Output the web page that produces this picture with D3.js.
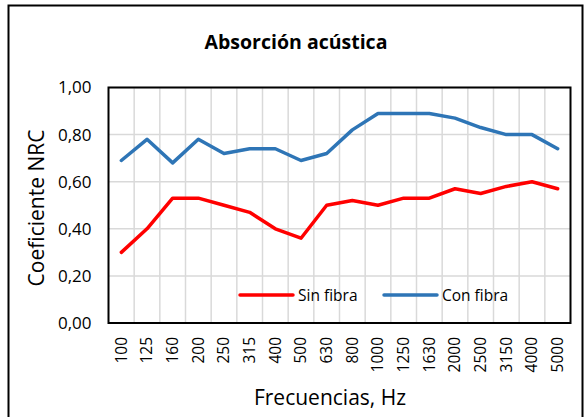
<!DOCTYPE html>
<html><head><meta charset="utf-8">
<script src="https://cdn.jsdelivr.net/npm/d3@7"></script>
<style>body{margin:0;background:#fff}svg{display:block}text{font-family:"Open Sans",Lato,sans-serif;fill:#000}</style>
</head><body><svg id="c" width="587" height="417"></svg>
<script>
const categories = ["100","125","160","200","250","315","400","500","630","800","1000","1250","1630","2000","2500","3150","4000","5000"];
const sinFibra = [0.30,0.40,0.53,0.53,0.50,0.47,0.40,0.36,0.50,0.52,0.50,0.53,0.53,0.57,0.55,0.58,0.60,0.57];
const conFibra = [0.69,0.78,0.68,0.78,0.72,0.74,0.74,0.69,0.72,0.82,0.89,0.89,0.89,0.87,0.83,0.80,0.80,0.74];
const yTicks = [0,0.2,0.4,0.6,0.8,1.0];
const series = [{name:"Sin fibra",values:sinFibra,color:"#FF0000"},{name:"Con fibra",values:conFibra,color:"#2E75B6"}];

const FF = "'Open Sans',Lato,sans-serif";
const svg = d3.select("#c");
const L=108.5,R=570.5,T=87.5,B=323;
svg.append("rect").attr("x",8.5).attr("y",5.5).attr("width",574).attr("height",420).attr("fill","none").attr("stroke","#000").attr("stroke-width",2);

const x = d3.scaleBand().domain(categories).range([L,R]);
const y = d3.scaleLinear().domain([0,1]).range([B,T]);

const g = svg.append("g");
g.selectAll(".hg").data(yTicks).join("line").attr("x1",L).attr("x2",R).attr("y1",d=>y(d)).attr("y2",d=>y(d)).attr("stroke","#d9d9d9").attr("stroke-width",1.5);
g.selectAll(".vg").data(categories.slice(1)).join("line").attr("x1",d=>x(d)).attr("x2",d=>x(d)).attr("y1",T).attr("y2",B).attr("stroke","#d9d9d9").attr("stroke-width",1.5);

const line = d3.line().x((d,i)=>x(categories[i])+x.bandwidth()/2).y(d=>y(d));
series.forEach(s=>{
  svg.append("path").attr("d",line(s.values)).attr("fill","none").attr("stroke",s.color).attr("stroke-width",3.5).attr("stroke-linejoin","round").attr("stroke-linecap","round");
});

svg.append("rect").attr("x",L).attr("y",T).attr("width",R-L).attr("height",B-T).attr("fill","none").attr("stroke","#000").attr("stroke-width",2);

const fmt = d=>d3.format(".2f")(d).replace(".",",");
svg.append("g").attr("transform",`translate(${L},0)`).call(d3.axisLeft(y).tickValues(yTicks).tickFormat(fmt).tickSize(0).tickPadding(17))
  .call(a=>a.select(".domain").remove())
  .call(a=>a.selectAll("text").attr("font-size",17).attr("font-family",FF).attr("fill","#000"));

svg.append("g").attr("transform",`translate(0,${B})`).call(d3.axisBottom(x).tickSize(0).tickPadding(0))
  .call(a=>a.select(".domain").remove())
  .call(a=>a.selectAll("text").attr("font-size",15.5).attr("font-family",FF).attr("fill","#000")
    .attr("transform","rotate(-90)").attr("text-anchor","end").attr("x",-14).attr("y",0).attr("dy","0.35em"));

svg.append("text").attr("x",296).attr("y",49).attr("text-anchor","middle").attr("font-size",19.5).attr("font-weight","bold").text("Absorción acústica");
svg.append("text").attr("transform","translate(44,208) rotate(-90)").attr("text-anchor","middle").attr("font-size",21).text("Coeficiente NRC");
svg.append("text").attr("x",330).attr("y",405).attr("text-anchor","middle").attr("font-size",21).text("Frecuencias, Hz");

const lx=[240,384];
series.forEach((s,i)=>{
  svg.append("line").attr("x1",lx[i]).attr("x2",lx[i]+53).attr("y1",295).attr("y2",295).attr("stroke",s.color).attr("stroke-width",3.5).attr("stroke-linecap","round");
  svg.append("text").attr("x",lx[i]+58).attr("y",300.5).attr("font-size",15.5).text(s.name);
});
</script></body></html>
